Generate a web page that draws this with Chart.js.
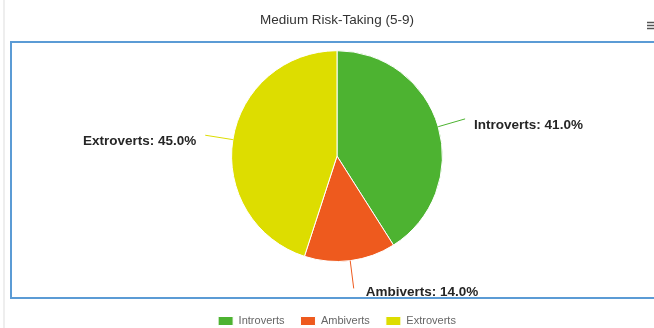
<!DOCTYPE html>
<html>
<head>
<meta charset="utf-8">
<script src="https://cdn.jsdelivr.net/npm/chart.js@4.4.1/dist/chart.umd.min.js"></script>
<style>
  html, body { margin: 0; padding: 0; background: #fff; }
  #wrap { width: 654px; height: 328px; }
</style>
</head>
<body>
<div id="wrap"><canvas id="pieChart" width="654" height="328"></canvas></div>
<script>
// Chart data
const categories = ["Introverts", "Ambiverts", "Extroverts"];
const shares = [41.0, 14.0, 45.0];
const sliceColors = ["#4db331", "#ee5a1e", "#dddd00"];
const chartTitle = "Medium Risk-Taking (5-9)";

// Frame, menu icon and the data labels with connectors
const decorPlugin = {
  id: "decor",
  beforeDraw(chart) {
    const c = chart.ctx;
    c.save();
    // faint page edge
    c.strokeStyle = "#eeeeee";
    c.lineWidth = 2;
    c.beginPath();
    c.moveTo(4, 0);
    c.lineTo(4, 328);
    c.stroke();
    // blue frame
    c.strokeStyle = "#5b9bd5";
    c.lineWidth = 2;
    c.beginPath();
    c.moveTo(700, 42);
    c.lineTo(11, 42);
    c.lineTo(11, 298);
    c.lineTo(700, 298);
    c.stroke();
    // menu icon (cut off)
    c.strokeStyle = "#555";
    c.lineWidth = 1.5;
    [22.5, 25.5, 28.5].forEach((y) => {
      c.beginPath();
      c.moveTo(647, y);
      c.lineTo(654, y);
      c.stroke();
    });
    c.restore();
  },
  afterDatasetsDraw(chart) {
    const c = chart.ctx;
    const meta = chart.getDatasetMeta(0);
    c.save();
    c.font = "bold 13.5px 'Liberation Sans', Arial, sans-serif";
    c.textBaseline = "middle";
    meta.data.forEach((arc, i) => {
      const p = arc.getProps(["x", "y", "startAngle", "endAngle", "outerRadius"], true);
      const mid = (p.startAngle + p.endAngle) / 2;
      const cos = Math.cos(mid);
      const sin = Math.sin(mid);
      const x0 = p.x + p.outerRadius * cos;
      const y0 = p.y + p.outerRadius * sin;
      const x1 = p.x + (p.outerRadius + 28) * cos;
      const y1 = p.y + (p.outerRadius + 28) * sin;
      c.strokeStyle = sliceColors[i];
      c.lineWidth = 1;
      c.beginPath();
      c.moveTo(x0, y0);
      c.lineTo(x1, y1);
      c.stroke();
      const right = cos >= 0;
      c.fillStyle = "#262626";
      c.textAlign = right ? "left" : "right";
      const label = categories[i] + ": " + shares[i].toFixed(1) + "%";
      const dy = Math.abs(sin) > 0.9 ? 4 : 6;
      const dx = Math.abs(sin) > 0.9 ? 12 : 9;
      c.fillText(label, x1 + (right ? dx : -dx), y1 + dy);
    });
    c.restore();
  },
};

const ctx = document.getElementById("pieChart").getContext("2d");

const myPieChart = new Chart(ctx, {
  type: "pie",
  data: {
    labels: categories,
    datasets: [
      {
        data: shares,
        backgroundColor: sliceColors,
        borderColor: "#ffffff",
        borderWidth: 1,
      },
    ],
  },
  options: {
    responsive: false,
    animation: false,
    layout: {
      padding: { left: 20, right: 0, top: 0, bottom: 0 },
    },
    plugins: {
      title: {
        display: true,
        text: chartTitle,
        color: "#333",
        font: { family: "'Liberation Sans', Arial, sans-serif", size: 13.5, weight: "normal" },
        padding: { top: 12, bottom: 22 },
      },
      legend: {
        display: true,
        position: "bottom",
        maxHeight: 66,
        title: {
          display: true,
          text: "",
          font: { size: 10 },
          padding: { top: 0, bottom: 25.5 },
        },
        labels: {
          boxWidth: 15,
          boxHeight: 9,
          padding: 16,
          color: "#666",
          font: { family: "'Liberation Sans', Arial, sans-serif", size: 11 },
        },
      },
      tooltip: { enabled: false },
    },
  },
  plugins: [decorPlugin],
});
</script>
</body>
</html>
